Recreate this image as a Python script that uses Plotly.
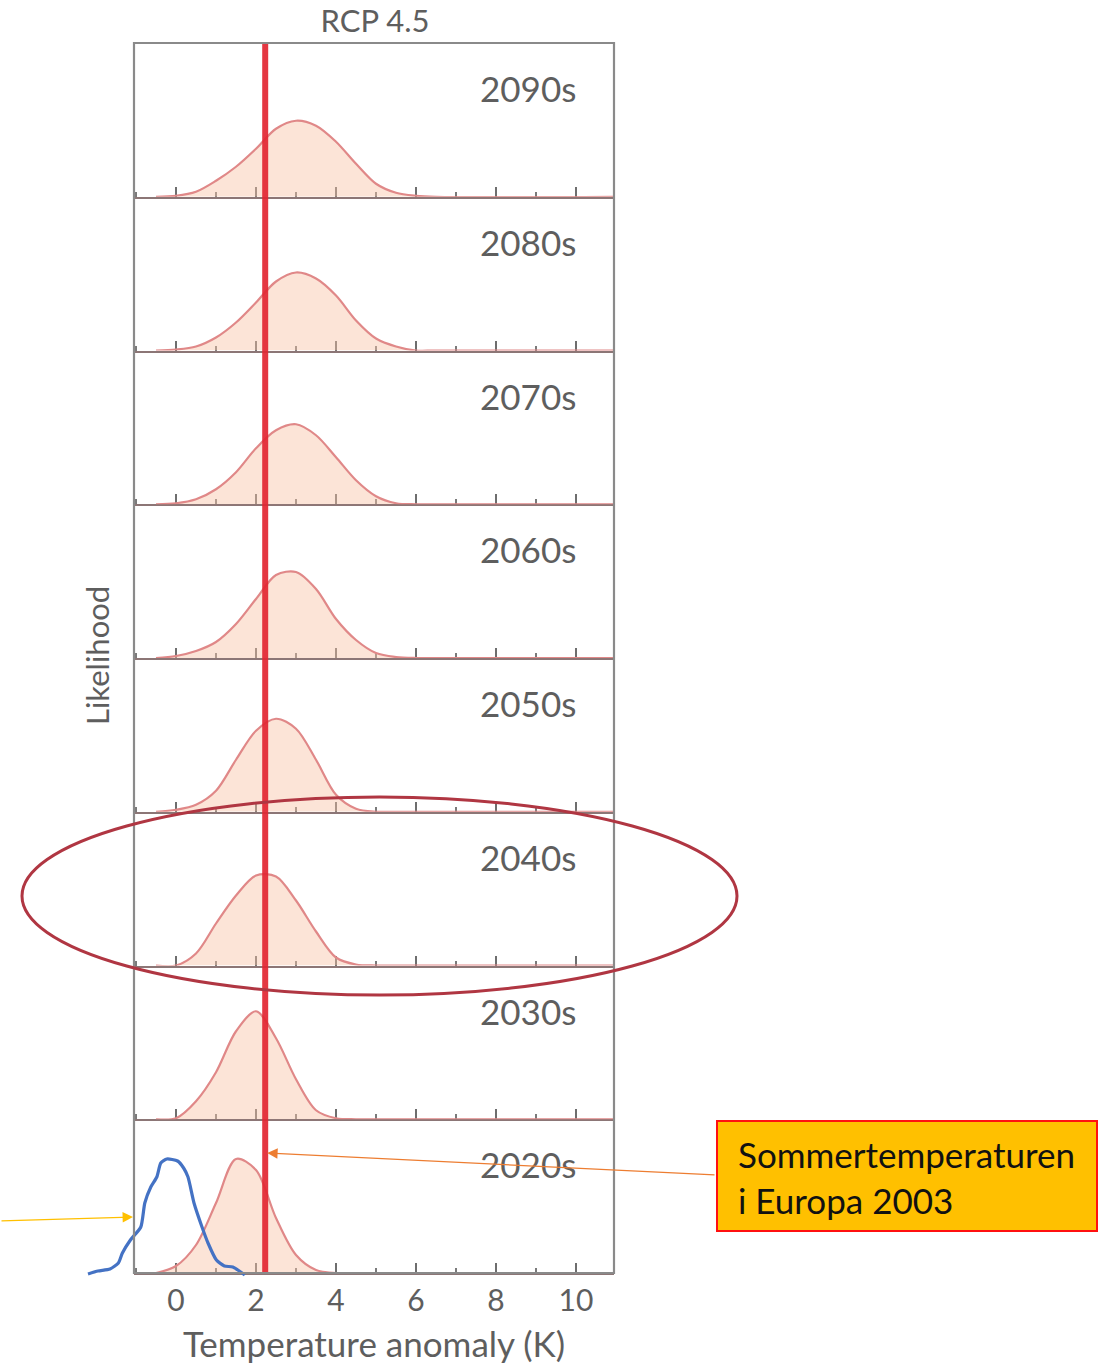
import plotly.graph_objects as go

# ---------------- data ----------------
DECADES = ["2090s", "2080s", "2070s", "2060s", "2050s", "2040s", "2030s", "2020s"]
X_GRID = [-0.5, 0, 0.5, 1, 1.5, 2, 2.5, 3, 3.5, 4, 4.5, 5, 5.5, 6, 6.5]
TAIL_X = 10.95

L_2090 = [0, 0.01, 0.05, 0.16, 0.30, 0.48, 0.68, 0.76, 0.71, 0.55, 0.33, 0.13, 0.04, 0.01, 0]
L_2080 = [0, 0.01, 0.04, 0.13, 0.28, 0.48, 0.69, 0.78, 0.72, 0.55, 0.30, 0.12, 0.04, 0.0, 0]
L_2070 = [0, 0.01, 0.05, 0.15, 0.32, 0.56, 0.74, 0.80, 0.69, 0.47, 0.24, 0.08, 0.01, 0, 0]
L_2060 = [0, 0.02, 0.07, 0.16, 0.34, 0.59, 0.83, 0.86, 0.69, 0.39, 0.18, 0.05, 0.01, 0, 0]
L_2050 = [0, 0.02, 0.07, 0.21, 0.52, 0.81, 0.93, 0.83, 0.52, 0.17, 0.03, 0, 0, 0, 0]
L_2040 = [0, 0.0, 0.12, 0.42, 0.70, 0.90, 0.89, 0.65, 0.34, 0.08, 0.01, 0, 0, 0, 0]
L_2030 = [0, 0.01, 0.18, 0.47, 0.88, 1.08, 0.81, 0.40, 0.09, 0.01, 0, 0, 0, 0, 0]
L_2020 = [0, 0.07, 0.28, 0.70, 1.14, 1.03, 0.55, 0.18, 0.03, 0, 0, 0, 0, 0, 0]
LIKELIHOODS = [L_2090, L_2080, L_2070, L_2060, L_2050, L_2040, L_2030, L_2020]

RED_LINE_X = 2.23          # Summer temperature Europe 2003
X_TICKS = [0, 2, 4, 6, 8, 10]

# hand-drawn blue curve (x in K, y in likelihood units of the bottom panel)
BLUE_X = [-2.2, -1.95, -1.65, -1.44, -1.34, -1.14, -0.88, -0.78, -0.63, -0.48, -0.38,
          -0.23, 0.04, 0.19, 0.30, 0.45, 0.65, 0.80, 1.01, 1.21, 1.42, 1.72]
BLUE_Y = [-0.01, 0.02, 0.04, 0.10, 0.20, 0.33, 0.46, 0.70, 0.86, 0.96, 1.10,
          1.14, 1.12, 1.05, 0.96, 0.70, 0.46, 0.30, 0.13, 0.07, 0.06, -0.02]

BOX_TEXT = "Sommertemperaturen<br>i Europa 2003"

# ---------------- layout geometry ----------------
W, H = 1112, 1364
PX_L, PX_R = 134, 614
PX_TOP = 43
PANEL_H = 153.75
X_RANGE = [-1.05, 10.95]
Y_RANGE = [0, PANEL_H / 100.0]
N = len(DECADES)
PANEL_BOTTOM_PX = PX_TOP + N * PANEL_H

TXT = "#5e5e5e"
FONT = "Lato"
LINE_C = "#e08888"
FILL_C = "rgba(249,196,166,0.45)"

fig = go.Figure()
layout = dict(
    width=W, height=H, margin=dict(l=0, r=0, t=0, b=0),
    paper_bgcolor="white", plot_bgcolor="rgba(0,0,0,0)",
    showlegend=False, font=dict(family=FONT, color=TXT),
)

annotations = []
for i, (dec, vals) in enumerate(zip(DECADES, LIKELIHOODS)):
    k = i + 1
    xa = "x" if k == 1 else f"x{k}"
    ya = "y" if k == 1 else f"y{k}"
    top = PX_TOP + i * PANEL_H
    bot = top + PANEL_H
    xs = X_GRID + [TAIL_X]
    ys = vals + [0]
    fig.add_trace(go.Scatter(
        x=xs, y=ys, xaxis=xa, yaxis=ya, mode="lines",
        line=dict(color=LINE_C, width=2.2, shape="spline", smoothing=0.9),
        fill="tozeroy", fillcolor=FILL_C, hoverinfo="skip"))
    last = (i == N - 1)
    layout["xaxis" if k == 1 else f"xaxis{k}"] = dict(
        domain=[PX_L / W, PX_R / W], range=X_RANGE, anchor=ya,
        showgrid=False, zeroline=False, showline=True, linecolor="#8c7676", linewidth=2,
        ticks="inside", tickvals=X_TICKS, ticklen=10, tickwidth=2, tickcolor="#6e6e6e",
        minor=dict(dtick=1, tick0=0, ticks="inside", ticklen=5, tickwidth=2, tickcolor="#7a7a7a"),
        showticklabels=last, layer="below traces",
        tickfont=dict(size=30, color=TXT, family=FONT),
        title=dict(text="Temperature anomaly (K)" if last else "",
                   font=dict(size=35, color=TXT, family=FONT), standoff=16),
        fixedrange=True,
    )
    layout["yaxis" if k == 1 else f"yaxis{k}"] = dict(
        domain=[1 - bot / H, 1 - top / H], range=Y_RANGE, anchor=xa,
        showgrid=False, zeroline=False, showline=False, showticklabels=False,
        ticks="", fixedrange=True,
    )
    annotations.append(dict(
        x=10.05, y=(PANEL_H - 45) / 100.0, xref=xa, yref=ya,
        text=dec, showarrow=False, xanchor="right", yanchor="middle",
        font=dict(size=35, color=TXT, family=FONT)))

# overlay axes spanning the whole page, same temperature scale (40 px per K)
X9_RANGE = [(0 - 176) / 40.0, (W - 176) / 40.0]
Y9_RANGE = [(PANEL_BOTTOM_PX - H) / 100.0, PANEL_BOTTOM_PX / 100.0]
layout["xaxis9"] = dict(domain=[0, 1], range=X9_RANGE, anchor="y9", visible=False, fixedrange=True)
layout["yaxis9"] = dict(domain=[0, 1], range=Y9_RANGE, anchor="x9", visible=False, fixedrange=True)

fig.add_trace(go.Scatter(
    x=[RED_LINE_X, RED_LINE_X], y=[(PANEL_BOTTOM_PX - PX_TOP) / 100.0, 0],
    xaxis="x9", yaxis="y9", mode="lines",
    line=dict(color="rgba(226,38,50,0.92)", width=6), hoverinfo="skip"))

fig.add_trace(go.Scatter(
    x=BLUE_X, y=BLUE_Y, xaxis="x9", yaxis="y9", mode="lines",
    line=dict(color="#4472c4", width=3.2, shape="spline", smoothing=0.6), hoverinfo="skip"))

shapes = [
    # outer frame
    dict(type="rect", xref="paper", yref="paper",
         x0=PX_L / W, x1=PX_R / W, y0=1 - PANEL_BOTTOM_PX / H, y1=1 - PX_TOP / H,
         line=dict(color="#8a8a8a", width=2.2), fillcolor="rgba(0,0,0,0)", layer="above"),
    # ellipse around the 2040s
    dict(type="circle", xref="x9", yref="y9",
         x0=(22 - 176) / 40.0, x1=(737 - 176) / 40.0,
         y0=(PANEL_BOTTOM_PX - 995) / 100.0, y1=(PANEL_BOTTOM_PX - 797) / 100.0,
         line=dict(color="#b03642", width=3), fillcolor="rgba(0,0,0,0)", layer="above"),
    # annotation box
    dict(type="rect", xref="paper", yref="paper",
         x0=717 / W, x1=1097 / W, y0=1 - 1231 / H, y1=1 - 1121 / H,
         line=dict(color="#ff1010", width=2), fillcolor="#ffc000", layer="above"),
]

annotations += [
    dict(x=736 / W, y=1 - 1177 / H, xref="paper", yref="paper", text=BOX_TEXT,
         showarrow=False, xanchor="left", yanchor="middle", align="left",
         font=dict(size=35, color="#111111", family=FONT)),
    dict(x=97 / W, y=1 - 656 / H, xref="paper", yref="paper", text="Likelihood",
         showarrow=False, textangle=-90, xanchor="center", yanchor="middle",
         font=dict(size=31, color=TXT, family=FONT)),
    # arrow from the box to the red line
    dict(x=2.28, y=1.20, xref="x9", yref="y9", ax=13.5, ay=0.98, axref="x9", ayref="y9",
         text="", showarrow=True, arrowhead=2, arrowsize=1.6, arrowwidth=1.3,
         arrowcolor="#ed7d31"),
    # yellow arrow from the left to the blue curve
    dict(x=-1.075, y=0.56, xref="x9", yref="y9", ax=-4.4, ay=0.52, axref="x9", ayref="y9",
         text="", showarrow=True, arrowhead=2, arrowsize=1.6, arrowwidth=1.3,
         arrowcolor="#ffc000"),
]

layout["shapes"] = shapes
layout["annotations"] = annotations
layout["title"] = dict(text="RCP 4.5", x=375 / W, xanchor="center", y=1 - 21 / H,
                       yanchor="middle", font=dict(size=31, color=TXT, family=FONT))
fig.update_layout(**layout)
fig.write_html("out.html", config={"displayModeBar": False},
               post_script="document.body.style.margin='0';document.body.style.overflow='hidden';")
